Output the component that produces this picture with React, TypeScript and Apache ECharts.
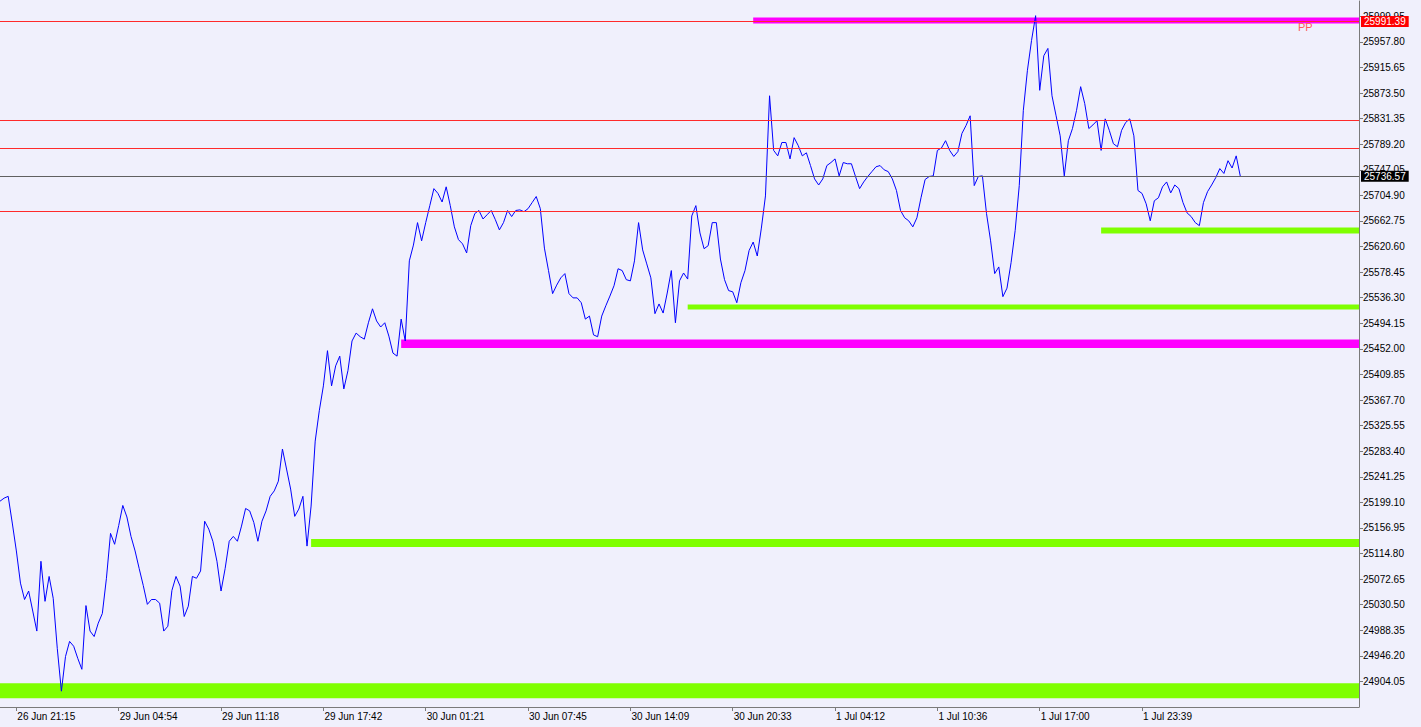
import React, { useEffect, useRef } from "react";
import * as echarts from "echarts";

// ---- time axis (bars) ----
const timeLabels = [
  "26 Jun 21:15", "29 Jun 04:54", "29 Jun 11:18", "29 Jun 17:42",
  "30 Jun 01:21", "30 Jun 07:45", "30 Jun 14:09", "30 Jun 20:33",
  "1 Jul 04:12", "1 Jul 10:36", "1 Jul 17:00", "1 Jul 23:39",
];
const barCount = 333;
const firstLabelBar = 4;
const barsPerLabel = 25;

// ---- close prices, one per bar ----
const closePrices = [
  25201, 25206, 25209, 25165, 25119, 25066, 25039, 25053, 25020, 24987,
  25102, 25036, 25077, 25041, 24958, 24888, 24945, 24970, 24962, 24942,
  24924, 25029, 24987, 24978, 25000, 25016, 25074, 25148, 25130, 25161,
  25194, 25175, 25143, 25119, 25090, 25062, 25031, 25039, 25039, 25033,
  24987, 24995, 25054, 25077, 25061, 25011, 25028, 25077, 25074, 25086,
  25168, 25155, 25135, 25102, 25053, 25090, 25135, 25143, 25135, 25160,
  25189, 25185, 25166, 25135, 25168, 25185, 25209, 25218, 25234, 25287,
  25254, 25221, 25176, 25188, 25209, 25127, 25193, 25300, 25350, 25391,
  25449, 25391, 25424, 25440, 25386, 25416, 25465, 25478, 25472, 25468,
  25495, 25518, 25498, 25488, 25495, 25473, 25445, 25440, 25501, 25465,
  25597, 25623, 25660, 25630, 25660, 25688, 25716, 25708, 25694, 25719,
  25688, 25653, 25632, 25625, 25610, 25655, 25675, 25680, 25666, 25673,
  25680, 25665, 25648, 25660, 25680, 25670, 25680, 25681, 25678, 25683,
  25693, 25703, 25683, 25618, 25581, 25543, 25557, 25569, 25576, 25543,
  25536, 25536, 25528, 25501, 25506, 25475, 25472, 25506, 25523, 25539,
  25556, 25584, 25581, 25566, 25564, 25597, 25660, 25615, 25592, 25569,
  25510, 25526, 25511, 25544, 25581, 25495, 25564, 25577, 25567, 25671,
  25688, 25643, 25617, 25622, 25660, 25660, 25600, 25566, 25548, 25546,
  25528, 25561, 25581, 25614, 25628, 25605, 25651, 25704, 25869, 25779,
  25770, 25792, 25792, 25765, 25800, 25787, 25770, 25775, 25754, 25732,
  25722, 25732, 25754, 25759, 25765, 25737, 25759, 25757, 25757, 25736,
  25716, 25727, 25736, 25744, 25752, 25754, 25747, 25744, 25732, 25713,
  25680, 25668, 25663, 25653, 25668, 25701, 25731, 25736, 25737, 25779,
  25783, 25795, 25779, 25769, 25777, 25807, 25820, 25836, 25721, 25736,
  25737, 25675, 25630, 25576, 25587, 25538, 25552, 25594, 25647, 25721,
  25845, 25911, 25960, 26001, 25878, 25935, 25947, 25869, 25836, 25803,
  25737, 25795, 25815, 25845, 25884, 25856, 25815, 25821, 25828, 25779,
  25831, 25812, 25790, 25785, 25812, 25825, 25831, 25803, 25713, 25708,
  25691, 25663, 25696, 25701, 25719, 25727, 25709, 25722, 25716, 25693,
  25676, 25670, 25660, 25655, 25693, 25711, 25722, 25734, 25749, 25741,
  25762, 25750, 25770, 25736.57,
];

// ---- price scale ----
const priceMin = 24861.9;
const priceMax = 26025.16;
const priceStep = 42.15;

// ---- levels ----
const currentPrice = 25736.57;
const pivotPrice = 25991.39;
const pivotName = "PP";
const redLevels = [25828.2, 25782.0, 25678.3];

// zones: start bar, low price, high price
const magentaStarts = [184, 98];
const magentaLows = [25988.0, 25453.5];
const magentaHighs = [25998.0, 25467.5];
const greenStarts = [269, 168, 76, 0];
const greenLows = [25642.0, 25517.0, 25125.5, 24876.4];
const greenHighs = [25652.0, 25525.0, 25138.7, 24901.1];

export default function App() {
  const ref = useRef<HTMLDivElement>(null);

  useEffect(() => {
    if (!ref.current) return;
    const chart = echarts.init(ref.current, null, { renderer: "svg" });

    const labelAt = new Map<number, string>();
    timeLabels.forEach((t, k) => labelAt.set(firstLabelBar + k * barsPerLabel, t));
    const categories = Array.from({ length: barCount }, (_, i) => "b" + i);
    const lastBar = barCount - 1;

    const zone = (start: number, low: number, high: number, color: string) => [
      { xAxis: start, yAxis: high, itemStyle: { color, opacity: 1 } },
      { xAxis: lastBar, yAxis: low },
    ];

    const axisColor = "#7a7a7a";
    const redColor = "#ff2a2a";

    const boxLabel = (text: string, bg: string) => ({
      show: true,
      position: "end",
      distance: 2,
      formatter: text,
      backgroundColor: bg,
      color: "#ffffff",
      fontSize: 10,
      lineHeight: 11,
      padding: [0, 3, 0, 3],
      fontFamily: "Liberation Sans",
    });

    chart.setOption({
      animation: false,
      backgroundColor: "#f0f0fc",
      textStyle: { fontFamily: "Liberation Sans" },
      grid: { left: 0, right: 62, top: 1, bottom: 20 },
      xAxis: {
        type: "category",
        data: categories,
        boundaryGap: false,
        axisLine: { show: true, lineStyle: { color: axisColor, width: 1 } },
        axisTick: {
          show: true,
          length: 4,
          interval: (i: number) => labelAt.has(i),
          lineStyle: { color: axisColor },
        },
        axisLabel: {
          interval: (i: number) => labelAt.has(i),
          formatter: (_v: string, i: number) => labelAt.get(i) ?? "",
          align: "left",
          margin: 4,
          padding: [0, 0, 0, 1],
          fontSize: 10,
          color: "#000",
        },
        splitLine: { show: false },
      },
      yAxis: [
        {
          type: "value",
          min: priceMin,
          max: priceMax,
          show: false,
          splitLine: { show: false },
        },
        {
          type: "value",
          position: "right",
          min: 0,
          max: priceMax - priceMin,
          interval: priceStep,
          axisLine: { show: true, lineStyle: { color: axisColor, width: 1 } },
          axisTick: { show: true, length: 4, lineStyle: { color: axisColor } },
          axisLabel: {
            formatter: (v: number) => (v + priceMin).toFixed(2),
            margin: 4,
            fontSize: 10,
            color: "#000",
            showMinLabel: false,
            showMaxLabel: false,
          },
          splitLine: { show: false },
        },
      ],
      graphic: [
        {
          type: "text",
          x: 1298,
          y: 21,
          z: 100,
          style: {
            text: pivotName,
            fill: "#ff5a5a",
            fontSize: 11,
            fontFamily: "Liberation Sans",
          },
        },
      ],
      series: [
        {
          name: "zones",
          type: "line",
          data: [],
          z: 1,
          silent: true,
          markArea: {
            silent: true,
            data: [
              ...greenStarts.map((s, k) => zone(s, greenLows[k], greenHighs[k], "#7fff00")),
              ...magentaStarts.map((s, k) => zone(s, magentaLows[k], magentaHighs[k], "#ff00ff")),
            ],
          },
        },
        {
          name: "red levels",
          type: "line",
          data: [],
          z: 2,
          silent: true,
          color: redColor,
          markLine: {
            silent: true,
            symbol: "none",
            lineStyle: { color: redColor, width: 1, type: "solid", opacity: 1 },
            label: { show: false },
            data: [
              ...redLevels.map((v) => ({ yAxis: v })),
              { yAxis: pivotPrice, label: boxLabel(pivotPrice.toFixed(2), "#ff0000") },
            ],
          },
        },
        {
          name: "current price",
          type: "line",
          data: [],
          z: 2,
          silent: true,
          color: "#606060",
          markLine: {
            silent: true,
            symbol: "none",
            lineStyle: { color: "#606060", width: 1, type: "solid", opacity: 1 },
            data: [{ yAxis: currentPrice, label: boxLabel(currentPrice.toFixed(2), "#000000") }],
          },
        },
        {
          name: "close",
          type: "line",
          data: closePrices,
          z: 3,
          showSymbol: false,
          symbol: "none",
          lineStyle: { color: "#0000ff", width: 1 },
        },
      ],
    });

    return () => chart.dispose();
  }, []);

  return (
    <div
      ref={ref}
      style={{ position: "absolute", left: 0, top: 0, width: 1421, height: 727 }}
    />
  );
}
